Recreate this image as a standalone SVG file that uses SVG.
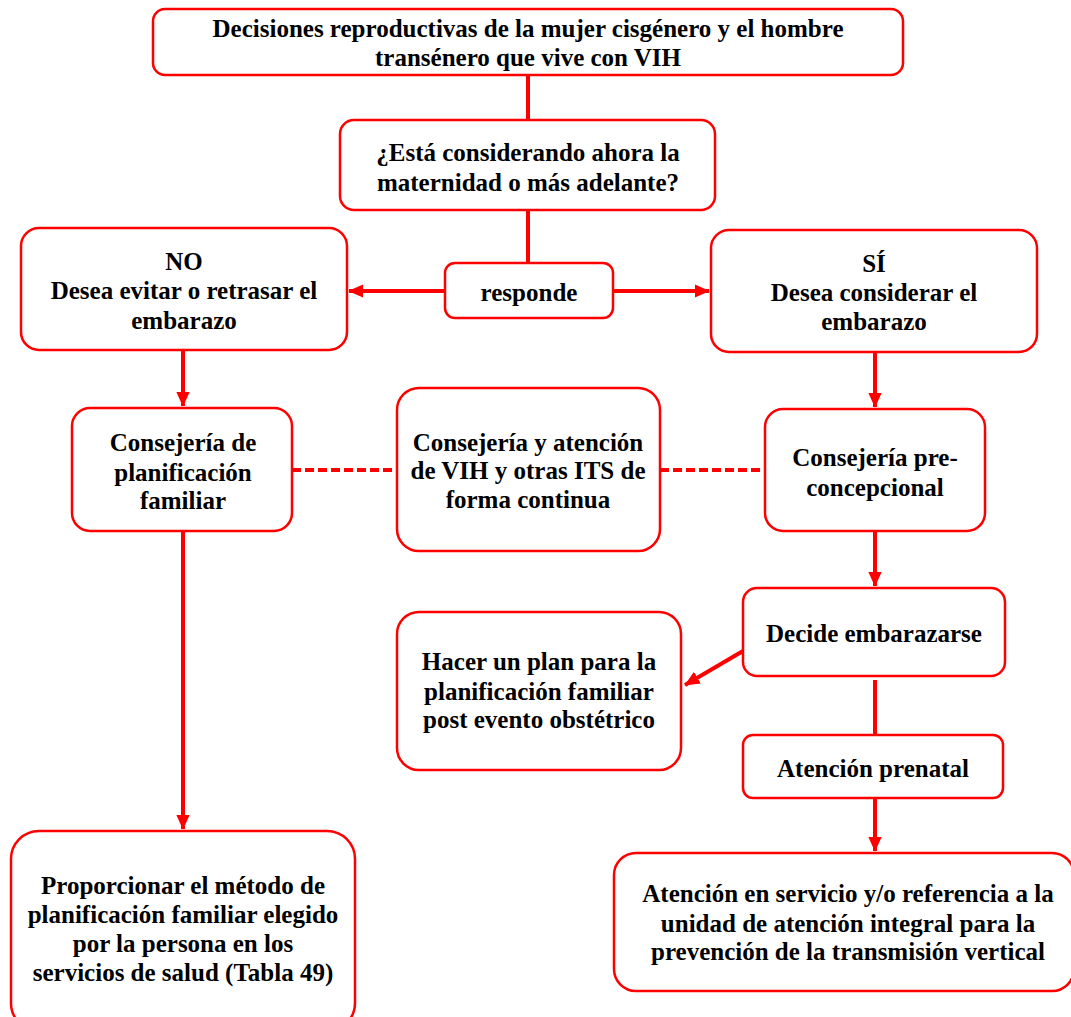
<svg xmlns="http://www.w3.org/2000/svg" width="1071" height="1017" viewBox="0 0 1071 1017">
<defs>
<marker id="ah" markerWidth="4" markerHeight="4" refX="3.6" refY="2" orient="auto" markerUnits="strokeWidth">
<path d="M0,0.3 L3.8,2 L0,3.7 Z" fill="#ff0000"/>
</marker>
</defs>
<style>
.n rect{fill:#fff;stroke:#ff0000;stroke-width:2.5}
.t text{font-weight:bold;font-size:25px;fill:#000;text-anchor:middle}
.c line,.c path{stroke:#ff0000;stroke-width:4;fill:none}
.c .d{stroke-dasharray:9 4}
</style>
<rect width="1071" height="1017" fill="#fff"/>
<g class="c">
<line x1="528" y1="75" x2="528" y2="120"/>
<line x1="528" y1="210" x2="528" y2="263"/>
<line x1="445" y1="291" x2="349" y2="291" marker-end="url(#ah)"/>
<line x1="613" y1="291" x2="709" y2="291" marker-end="url(#ah)"/>
<line x1="183" y1="350" x2="183" y2="406" marker-end="url(#ah)"/>
<line x1="875" y1="352" x2="875" y2="407" marker-end="url(#ah)"/>
<line class="d" x1="292" y1="470" x2="397" y2="470"/>
<line class="d" x1="660" y1="470" x2="765" y2="470"/>
<line x1="875" y1="531" x2="875" y2="586" marker-end="url(#ah)"/>
<line x1="743" y1="651" x2="685" y2="685" marker-end="url(#ah)"/>
<line x1="875" y1="680" x2="875" y2="735"/>
<line x1="875" y1="798" x2="875" y2="851" marker-end="url(#ah)"/>
<line x1="183" y1="531" x2="183" y2="829" marker-end="url(#ah)"/>
</g>
<g class="t" font-family="'Liberation Serif', 'Times New Roman', serif">
<g id="n1" class="n"><rect x="153" y="9" width="750" height="66" rx="12"/>
<text x="528" y="37">Decisiones reproductivas de la mujer cisgénero y el hombre</text>
<text x="528" y="66">transénero que vive con VIH</text></g>
<g id="n2" class="n"><rect x="340" y="120" width="375" height="90" rx="14"/>
<text x="528" y="161">¿Está considerando ahora la</text>
<text x="528" y="191">maternidad o más adelante?</text></g>
<g id="n3" class="n"><rect x="445" y="263" width="168" height="55" rx="10"/>
<text x="529" y="301">responde</text></g>
<g id="n4" class="n"><rect x="21" y="228" width="326" height="122" rx="18"/>
<text x="184" y="270">NO</text>
<text x="184" y="299">Desea evitar o retrasar el</text>
<text x="184" y="329">embarazo</text></g>
<g id="n5" class="n"><rect x="711" y="230" width="326" height="122" rx="18"/>
<text x="874" y="272">SÍ</text>
<text x="874" y="301">Desea considerar el</text>
<text x="874" y="330">embarazo</text></g>
<g id="n6" class="n"><rect x="72" y="408" width="220" height="123" rx="18"/>
<text x="183" y="451">Consejería de</text>
<text x="183" y="481">planificación</text>
<text x="183" y="509">familiar</text></g>
<g id="n7" class="n"><rect x="397" y="388" width="263" height="163" rx="22"/>
<text x="528" y="451">Consejería y atención</text>
<text x="528" y="479">de VIH y otras ITS de</text>
<text x="528" y="508">forma continua</text></g>
<g id="n8" class="n"><rect x="765" y="409" width="220" height="122" rx="18"/>
<text x="875" y="466">Consejería pre-</text>
<text x="875" y="496">concepcional</text></g>
<g id="n9" class="n"><rect x="743" y="588" width="262" height="88" rx="14"/>
<text x="874" y="642">Decide embarazarse</text></g>
<g id="n10" class="n"><rect x="397" y="612" width="284" height="158" rx="22"/>
<text x="539" y="670">Hacer un plan para la</text>
<text x="539" y="700">planificación familiar</text>
<text x="539" y="728">post evento obstétrico</text></g>
<g id="n11" class="n"><rect x="743" y="735" width="260" height="63" rx="10"/>
<text x="873" y="777">Atención prenatal</text></g>
<g id="n12" class="n"><rect x="614" y="853" width="460" height="138" rx="22"/>
<text x="848" y="902">Atención en servicio y/o referencia a la</text>
<text x="848" y="932">unidad de atención integral para la</text>
<text x="848" y="960">prevención de la transmisión vertical</text></g>
<g id="n13" class="n"><rect x="11" y="831" width="344" height="200" rx="28"/>
<text x="183" y="894">Proporcionar el método de</text>
<text x="183" y="923">planificación familiar elegido</text>
<text x="183" y="952">por la persona en los</text>
<text x="183" y="981">servicios de salud (Tabla 49)</text></g>
</g>
</svg>
